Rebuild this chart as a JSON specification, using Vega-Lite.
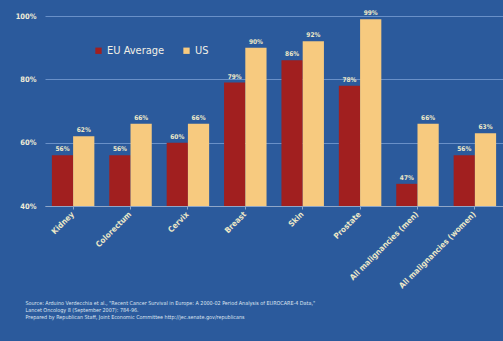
{
  "$schema": "https://vega.github.io/schema/vega-lite/v6.json",
  "width": 458,
  "height": 190,
  "autosize": {"type": "none"},
  "padding": {"left": 45, "top": 16, "right": 0, "bottom": 135},
  "background": "#2b5a9c",
  "config": {"view": {"stroke": null}, "font": "DejaVu Sans Condensed"},
  "data": {
    "values": [
      {"cat": "Kidney", "series": "EU Average", "value": 0.56},
      {"cat": "Kidney", "series": "US", "value": 0.62},
      {"cat": "Colorectum", "series": "EU Average", "value": 0.56},
      {"cat": "Colorectum", "series": "US", "value": 0.66},
      {"cat": "Cervix", "series": "EU Average", "value": 0.60},
      {"cat": "Cervix", "series": "US", "value": 0.66},
      {"cat": "Breast", "series": "EU Average", "value": 0.79},
      {"cat": "Breast", "series": "US", "value": 0.90},
      {"cat": "Skin", "series": "EU Average", "value": 0.86},
      {"cat": "Skin", "series": "US", "value": 0.92},
      {"cat": "Prostate", "series": "EU Average", "value": 0.78},
      {"cat": "Prostate", "series": "US", "value": 0.99},
      {"cat": "All malignancies (men)", "series": "EU Average", "value": 0.47},
      {"cat": "All malignancies (men)", "series": "US", "value": 0.66},
      {"cat": "All malignancies (women)", "series": "EU Average", "value": 0.56},
      {"cat": "All malignancies (women)", "series": "US", "value": 0.63}
    ]
  },
  "encoding": {
    "x": {
      "field": "cat",
      "type": "nominal",
      "sort": ["Kidney", "Colorectum", "Cervix", "Breast", "Skin", "Prostate", "All malignancies (men)", "All malignancies (women)"],
      "scale": {"paddingInner": 0.26, "paddingOuter": 0.12},
      "axis": {
        "labelAngle": -45,
        "labelAlign": "right",
        "labelBaseline": "middle",
        "labelFontSize": 8,
        "labelFontWeight": "bold",
        "labelColor": "#ece8c8",
        "labelPadding": 4,
        "domainColor": "#8fa6c8",
        "tickColor": "#8fa6c8",
        "tickSize": 3,
        "title": [
          "Source: Arduino Verdecchia et al., \"Recent Cancer Survival in Europe: A 2000-02 Period Analysis of EUROCARE-4  Data,\"",
          "Lancet Oncology 8 (September 2007): 784-96.",
          "Prepared by Republican Staff, Joint Economic Committee http://jec.senate.gov/republicans"
        ],
        "titleFontSize": 5.4,
        "titleFontWeight": "normal",
        "titleColor": "#dde4f0",
        "titleAnchor": "start",
        "titleAlign": "left",
        "titleBaseline": "top",
        "titleX": -20,
        "titleY": 94,
        "titleLineHeight": 7
      }
    },
    "xOffset": {"field": "series", "sort": ["EU Average", "US"]},
    "y": {
      "field": "value",
      "type": "quantitative",
      "scale": {"domain": [0.4, 1.0], "nice": false},
      "axis": {
        "values": [0.4, 0.6, 0.8, 1.0],
        "format": ".0%",
        "title": null,
        "grid": true,
        "gridColor": "#6990c8",
        "gridWidth": 1,
        "domain": false,
        "ticks": false,
        "labelColor": "#f0ecd8",
        "labelFontWeight": "bold",
        "labelFontSize": 7.5,
        "labelPadding": 9
      }
    }
  },
  "layer": [
    {
      "mark": {"type": "bar"},
      "encoding": {
        "y2": {"datum": 0.4},
        "color": {
          "field": "series",
          "type": "nominal",
          "scale": {"domain": ["EU Average", "US"], "range": ["#a11f1f", "#f7ca7f"]},
          "legend": {
            "title": null,
            "orient": "none",
            "legendX": 48,
            "legendY": 29,
            "direction": "horizontal",
            "symbolType": "square",
            "symbolSize": 40,
            "symbolStrokeWidth": 0,
            "labelFontSize": 11,
            "labelColor": "#f2f0e6",
            "labelOffset": 3,
            "columnPadding": 16
          }
        }
      }
    },
    {
      "mark": {"type": "text", "dy": -6, "fontSize": 6.5, "fontWeight": "bold", "color": "#ece8c8"},
      "encoding": {
        "text": {"field": "value", "type": "quantitative", "format": ".0%"}
      }
    }
  ]
}
